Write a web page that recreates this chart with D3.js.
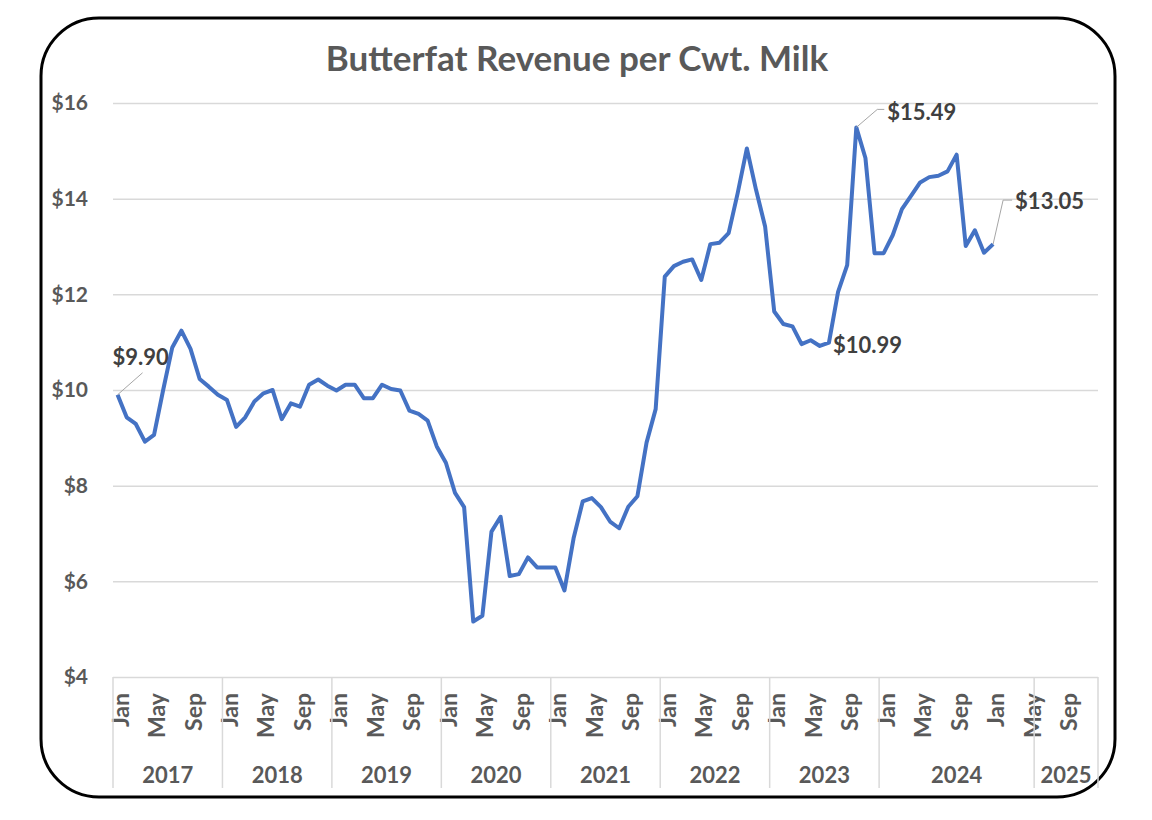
<!DOCTYPE html>
<html>
<head>
<meta charset="utf-8">
<script src="https://cdn.jsdelivr.net/npm/d3@7"></script>
<style>
    body { margin: 0; background: #ffffff; }
    svg { display: block; font-family: Lato, "Open Sans", sans-serif; font-weight: bold; }
</style>
</head>
<body>
<div id="chart"></div>
<script>
// DATA
var monthNames = ['Jan','Feb','Mar','Apr','May','Jun','Jul','Aug','Sep','Oct','Nov','Dec'];
var yearLabels = ['2017','2018','2019','2020','2021','2022','2023','2024','2025'];
// number of monthly categories that sit under each year label on the axis
var yearSpans = [12, 12, 12, 12, 12, 12, 12, 17, 7];
var yTicks = [4, 6, 8, 10, 12, 14, 16];

// butterfat revenue per cwt, Jan 2017 .. Jan 2025
var revenue = [
    9.90, 9.43, 9.29, 8.92, 9.06, 10.00, 10.89, 11.24, 10.86, 10.23, 10.07, 9.90,
    9.79, 9.23, 9.43, 9.76, 9.93, 10.00, 9.39, 9.72, 9.65, 10.11, 10.22, 10.09,
    9.99, 10.11, 10.11, 9.83, 9.83, 10.11, 10.02, 9.99, 9.57, 9.50, 9.36, 8.82,
    8.48, 7.85, 7.55, 5.16, 5.28, 7.04, 7.35, 6.11, 6.15, 6.50, 6.29, 6.29,
    6.29, 5.81, 6.90, 7.67, 7.74, 7.55, 7.25, 7.11, 7.56, 7.78, 8.90, 9.60,
    12.37, 12.59, 12.68, 12.73, 12.30, 13.05, 13.08, 13.28, 14.12, 15.05, 14.19, 13.42,
    11.64, 11.38, 11.33, 10.96, 11.04, 10.92, 10.99, 12.05, 12.61, 15.49, 14.85, 12.86,
    12.86, 13.24, 13.78, 14.06, 14.34, 14.45, 14.48, 14.57, 14.92, 13.01, 13.34, 12.87,
    13.05
];
// indexes of the points that carry a data label
var labelled = [0, 78, 81, 96];


// category list: one entry per month, every 4th one shows its month name
var categories = [];
yearSpans.forEach(function(n) {
    for (var k = 0; k < n; k++) categories.push(monthNames[categories.length % 12]);
});

var W = 1152, H = 820;
var plot = {left: 113, right: 1098, top: 103, bottom: 677};

var svg = d3.select('#chart').append('svg')
            .attr('width', W)
            .attr('height', H);

// rounded frame round the whole chart
svg.append('rect')
    .attr('x', 41).attr('y', 18)
    .attr('width', 1074).attr('height', 779)
    .attr('rx', 58).attr('ry', 58)
    .attr('fill', '#ffffff')
    .attr('stroke', '#000000')
    .attr('stroke-width', 3);

// title
svg.append('text')
    .attr('x', 577).attr('y', 57)
    .attr('text-anchor', 'middle')
    .attr('dominant-baseline', 'central')
    .style('font-size', '35px')
    .style('fill', '#595959')
    .text('Butterfat Revenue per Cwt. Milk');

// scales
var xScale = d3.scaleBand()
                .domain(d3.range(categories.length))
                .range([plot.left, plot.right]);
var yScale = d3.scaleLinear()
                .domain([4, 16])
                .range([plot.bottom, plot.top]);
function px(i) { return xScale(i) + xScale.bandwidth() / 2; }

// y axis with the gridlines
var yAxis = d3.axisLeft()
                .scale(yScale)
                .tickValues(yTicks)
                .tickSize(-(plot.right - plot.left))
                .tickPadding(25)
                .tickFormat(function(d) { return '$' + d; });
var yAxisG = svg.append('g').attr('id', 'yAxisG')
                .attr('transform', 'translate(' + plot.left + ',0)')
                .call(yAxis);
yAxisG.select('.domain').remove();
yAxisG.selectAll('line').attr('stroke', '#d9d9d9').attr('stroke-width', 1.5);
yAxisG.selectAll('text')
    .style('font-family', 'Lato, sans-serif')
    .style('font-size', '21px')
    .style('fill', '#595959');

// x axis: month names, rotated
var xAxisG = svg.append('g').attr('id', 'xAxisG');
xAxisG.selectAll('text.month')
    .data(d3.range(0, categories.length, 4))
    .enter()
    .append('text')
    .attr('class', 'month')
    .attr('transform', function(i) { return 'translate(' + (px(i) + 2) + ',693) rotate(-90)'; })
    .attr('text-anchor', 'end')
    .attr('dominant-baseline', 'central')
    .style('font-size', '23px')
    .style('fill', '#595959')
    .text(function(i) { return categories[i]; });

// year groups with their separators
var starts = [0];
yearSpans.forEach(function(n, k) { starts.push(starts[k] + n); });
xAxisG.selectAll('line.sep')
    .data(starts)
    .enter()
    .append('line')
    .attr('class', 'sep')
    .attr('x1', function(s) { return s < categories.length ? xScale(s) : plot.right; })
    .attr('x2', function(s) { return s < categories.length ? xScale(s) : plot.right; })
    .attr('y1', plot.bottom)
    .attr('y2', 788)
    .attr('stroke', '#d9d9d9')
    .attr('stroke-width', 1.5);
xAxisG.selectAll('text.year')
    .data(yearLabels)
    .enter()
    .append('text')
    .attr('class', 'year')
    .attr('x', function(d, k) {
        var a = xScale(starts[k]);
        var b = starts[k + 1] < categories.length ? xScale(starts[k + 1]) : plot.right;
        return (a + b) / 2;
    })
    .attr('y', 774)
    .attr('text-anchor', 'middle')
    .attr('dominant-baseline', 'central')
    .style('font-size', '22px')
    .style('fill', '#595959')
    .text(function(d) { return d; });

// line chart
var line = d3.line()
                .x(function(d, i) { return px(i); })
                .y(function(d) { return yScale(d); });
svg.append('path')
    .attr('d', line(revenue))
    .attr('fill', 'none')
    .attr('stroke', '#4472c4')
    .attr('stroke-width', 4)
    .attr('stroke-linejoin', 'round');

// data labels, offsets are relative to the point
var labelPos = {
    0:  {dx: -5, dy: -38, leader: [[0, 0], [25, -22]]},
    78: {dx: 4,  dy: 2,   leader: null},
    81: {dx: 31, dy: -16, leader: [[0, 0], [21, -18], [28, -18]]},
    96: {dx: 22, dy: -44, leader: [[0, 0], [10, -44], [19, -44]]}
};
labelled.forEach(function(i) {
    var p = labelPos[i], x0 = px(i), y0 = yScale(revenue[i]);
    if (p.leader) {
        svg.append('path')
            .attr('d', d3.line()(p.leader.map(function(q) { return [x0 + q[0], y0 + q[1]]; })))
            .attr('fill', 'none')
            .attr('stroke', '#a6a6a6')
            .attr('stroke-width', 1);
    }
    svg.append('text')
        .attr('x', x0 + p.dx)
        .attr('y', y0 + p.dy)
        .attr('dominant-baseline', 'central')
        .style('font-size', '22px')
        .style('fill', '#404040')
        .text('$' + revenue[i].toFixed(2));
});
</script>
</body>
</html>
